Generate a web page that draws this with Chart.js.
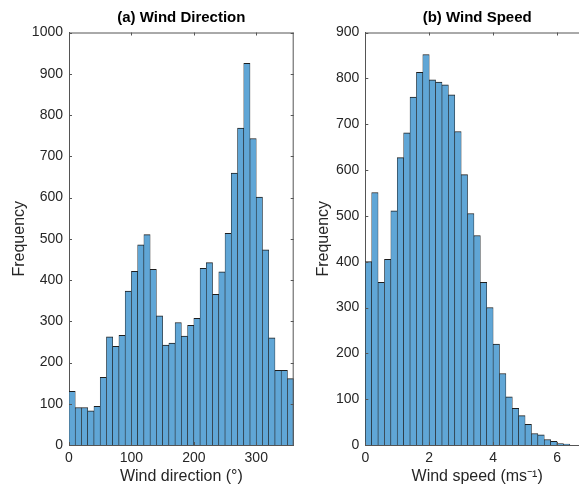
<!DOCTYPE html>
<html lang="en">
<head>
    <meta charset="UTF-8">
    <title>Wind Direction and Wind Speed</title>
    <script src="https://cdn.jsdelivr.net/npm/chart.js"></script>
    <style>
        html, body {
            margin: 0;
            padding: 0;
            background: #ffffff;
            overflow: hidden;
        }
        .wrap {
            position: relative;
            width: 579px;
            height: 486px;
            overflow: hidden;
        }
        canvas {
            position: absolute;
            top: 0;
        }
        #dirChart { left: 0; }
        #speedChart { left: 300px; }
    </style>
</head>
<body>
    <div class="wrap">
        <canvas id="dirChart" width="300" height="486"></canvas>
        <canvas id="speedChart" width="300" height="486"></canvas>
    </div>

    <script>
        // (a) wind direction histogram, 10 degree bins from 0 to 360
        const dirBinWidth = 10;
        const dirCounts = [130, 91, 91, 83, 94, 164, 262, 239, 266, 373, 421, 485,
                           510, 426, 313, 242, 247, 297, 264, 290, 307, 428, 442, 365,
                           420, 513, 659, 768, 925, 743, 601, 473, 260, 181, 181, 161];
        const dirTicksX = [0, 100, 200, 300];
        const dirTicksY = [0, 100, 200, 300, 400, 500, 600, 700, 800, 900, 1000];

        // (b) wind speed histogram, 0.2 m/s bins from 0
        const speedBinWidth = 0.2;
        const speedCounts = [400, 551, 355, 405, 511, 627, 681, 759, 813, 852, 797, 792,
                             786, 764, 684, 590, 505, 457, 355, 300, 220, 156, 105, 80,
                             64, 45, 25, 22, 12, 8, 3, 2];
        const speedTicksX = [0, 2, 4, 6];
        const speedTicksY = [0, 100, 200, 300, 400, 500, 600, 700, 800, 900];

        const FONT = "'Liberation Sans', Arial, Helvetica, sans-serif";
        const TEXT = '#262626';
        const AXIS = '#555555';
        const BAR_FILL = 'rgb(96, 166, 214)';
        const BAR_EDGE = '#1e1e1e';

        // turn bin counts into {x: bin centre, y: count} points
        function toPoints(counts, width) {
            return counts.map((c, i) => ({ x: (i + 0.5) * width, y: c }));
        }

        // draws the MATLAB style box (top/right edges) and inward tick marks
        const boxPlugin = {
            id: 'box',
            afterDraw(chart, args, opts) {
                const { ctx, chartArea: a, scales: { x, y } } = chart;
                const len = 3;
                ctx.save();
                ctx.strokeStyle = AXIS;
                ctx.lineWidth = 1;
                ctx.beginPath();
                ctx.moveTo(a.left, a.top + 0.5);
                ctx.lineTo(a.right, a.top + 0.5);
                ctx.moveTo(a.right - 0.5, a.top);
                ctx.lineTo(a.right - 0.5, a.bottom);
                opts.xTicks.forEach(v => {
                    const px = Math.round(x.getPixelForValue(v)) + 0.5;
                    ctx.moveTo(px, a.bottom);
                    ctx.lineTo(px, a.bottom - len);
                    ctx.moveTo(px, a.top);
                    ctx.lineTo(px, a.top + len);
                });
                opts.yTicks.forEach(v => {
                    const py = Math.round(y.getPixelForValue(v)) + 0.5;
                    ctx.moveTo(a.left, py);
                    ctx.lineTo(a.left + len, py);
                    ctx.moveTo(a.right, py);
                    ctx.lineTo(a.right - len, py);
                });
                ctx.stroke();
                ctx.restore();
            }
        };

        function makeHistogram(canvasId, cfg) {
            return new Chart(document.getElementById(canvasId), {
                type: 'bar',
                data: {
                    datasets: [{
                        data: toPoints(cfg.counts, cfg.binWidth),
                        backgroundColor: BAR_FILL,
                        borderColor: BAR_EDGE,
                        borderWidth: { top: 1, left: 0.6, right: 0.6, bottom: 0 },
                        borderSkipped: false,
                        barPercentage: 1,
                        categoryPercentage: 1
                    }]
                },
                options: {
                    responsive: false,
                    animation: false,
                    layout: { padding: { left: 0, right: cfg.padRight, top: 0, bottom: 0 } },
                    plugins: {
                        legend: { display: false },
                        tooltip: { enabled: false },
                        title: {
                            display: true,
                            text: cfg.title,
                            fullSize: false,
                            color: '#000000',
                            font: { family: FONT, size: 15, weight: 'bold' },
                            padding: { top: 9, bottom: 5.5 }
                        },
                        box: { xTicks: cfg.xTicks, yTicks: cfg.yTicks }
                    },
                    scales: {
                        x: {
                            type: 'linear',
                            offset: false,
                            min: 0,
                            max: cfg.xMax,
                            grid: { display: false, drawTicks: false },
                            border: { display: true, color: AXIS },
                            afterBuildTicks: s => { s.ticks = cfg.xTicks.map(v => ({ value: v })); },
                            afterFit: s => { s.height = 41; },
                            ticks: {
                                color: TEXT,
                                padding: 5,
                                maxRotation: 0,
                                font: { family: FONT, size: 14 }
                            },
                            title: {
                                display: true,
                                text: cfg.xLabel,
                                color: TEXT,
                                padding: { top: 0, bottom: 0 },
                                font: { family: FONT, size: 16 }
                            }
                        },
                        y: {
                            min: 0,
                            max: cfg.yMax,
                            grid: { display: false, drawTicks: false },
                            border: { display: true, color: AXIS },
                            afterBuildTicks: s => { s.ticks = cfg.yTicks.map(v => ({ value: v })); },
                            afterFit: s => { s.width = cfg.yWidth; },
                            ticks: {
                                color: TEXT,
                                padding: 6,
                                callback: v => String(v),
                                font: { family: FONT, size: 14 }
                            },
                            title: {
                                display: true,
                                text: 'Frequency',
                                color: TEXT,
                                padding: { top: cfg.yTitlePad, bottom: 0 },
                                font: { family: FONT, size: 16 }
                            }
                        }
                    }
                },
                plugins: [boxPlugin]
            });
        }

        makeHistogram('dirChart', {
            title: '(a) Wind Direction',
            counts: dirCounts,
            binWidth: dirBinWidth,
            xMax: 360,
            yMax: 1000,
            xTicks: dirTicksX,
            yTicks: dirTicksY,
            xLabel: 'Wind direction (°)',
            yWidth: 69,
            yTitlePad: 10,
            padRight: 6.3
        });

        makeHistogram('speedChart', {
            title: '(b) Wind Speed',
            counts: speedCounts,
            binWidth: speedBinWidth,
            xMax: 7,
            yMax: 900,
            xTicks: speedTicksX,
            yTicks: speedTicksY,
            xLabel: 'Wind speed (ms⁻¹)',
            yWidth: 65.3,
            yTitlePad: 14,
            padRight: 11
        });
    </script>
</body>
</html>
